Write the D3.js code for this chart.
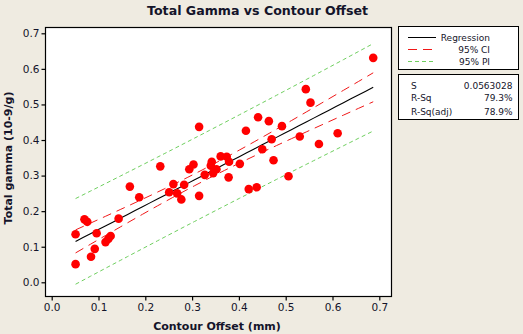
<!DOCTYPE html>
<html><head><meta charset="utf-8">
<script src="https://cdn.jsdelivr.net/npm/d3@7"></script>
<style>html,body{margin:0;padding:0;background:#EFEBE1;}svg{display:block;}</style>
</head><body>
<svg id="c" width="523" height="334"></svg>
<script>
const offsetMm = [0.051,0.051,0.070,0.076,0.084,0.092,0.096,0.115,0.121,0.126,0.143,0.167,0.187,0.232,0.251,0.260,0.268,0.277,0.283,0.294,0.303,0.315,0.315,0.327,0.340,0.342,0.345,0.352,0.361,0.374,0.379,0.378,0.402,0.415,0.421,0.438,0.441,0.450,0.464,0.470,0.474,0.492,0.506,0.530,0.543,0.553,0.571,0.611,0.687];
const totalGamma = [0.051,0.135,0.177,0.170,0.072,0.094,0.138,0.113,0.122,0.130,0.179,0.269,0.239,0.326,0.253,0.276,0.250,0.233,0.274,0.318,0.331,0.437,0.243,0.302,0.328,0.339,0.307,0.318,0.354,0.353,0.339,0.295,0.333,0.426,0.262,0.267,0.464,0.374,0.453,0.402,0.343,0.439,0.298,0.410,0.543,0.505,0.389,0.419,0.631];
const xTicks = [0,0.1,0.2,0.3,0.4,0.5,0.6,0.7];
const yTicks = [0,0.1,0.2,0.3,0.4,0.5,0.6,0.7];
const legendLabels = ["Regression","95% CI","95% PI"];
const statNames = ["S","R-Sq","R-Sq(adj)"];
const statValues = ["0.0563028","79.3%","78.9%"];
const tCrit = 2.012;

const svg = d3.select("#c");
const FONT = "DejaVu Sans, Verdana, sans-serif";
const txt = "#14142a";
const x = d3.scaleLinear().domain([0,0.7]).range([51.7,379.3]);
const y = d3.scaleLinear().domain([0,0.7]).range([282.3,33.3]);
const frame = {l:45.5,t:27.5,r:391.5,b:296.5};

svg.append("rect").attr("x",frame.l).attr("y",frame.t).attr("width",frame.r-frame.l).attr("height",frame.b-frame.t)
  .attr("fill","#fff").attr("stroke","#000").attr("stroke-width",1.2);

const n = offsetMm.length;
const mx = d3.mean(offsetMm), my = d3.mean(totalGamma);
let sxx=0, sxy=0;
for(let i=0;i<n;i++){sxx+=(offsetMm[i]-mx)**2; sxy+=(offsetMm[i]-mx)*(totalGamma[i]-my);}
const b1 = sxy/sxx, b0 = my - b1*mx;
let sse=0; for(let i=0;i<n;i++){sse+=(totalGamma[i]-b0-b1*offsetMm[i])**2;}
const s = Math.sqrt(sse/(n-2));
const xmin = d3.min(offsetMm), xmax = d3.max(offsetMm);
const grid = d3.range(0,41).map(k=>xmin+(xmax-xmin)*k/40);
const fit = v=>b0+b1*v;
const ci = v=>tCrit*s*Math.sqrt(1/n+(v-mx)**2/sxx);
const pi = v=>tCrit*s*Math.sqrt(1+1/n+(v-mx)**2/sxx);
const line = d3.line().x(d=>x(d[0])).y(d=>y(d[1]));
const g = svg.append("g");
g.append("path").datum(grid.map(v=>[v,fit(v)+pi(v)])).attr("d",line).attr("fill","none").attr("stroke","#6fcf5f").attr("stroke-width",1).attr("stroke-dasharray","4,3");
g.append("path").datum(grid.map(v=>[v,fit(v)-pi(v)])).attr("d",line).attr("fill","none").attr("stroke","#6fcf5f").attr("stroke-width",1).attr("stroke-dasharray","4,3");
g.append("path").datum(grid.map(v=>[v,fit(v)+ci(v)])).attr("d",line).attr("fill","none").attr("stroke","#f01818").attr("stroke-width",1).attr("stroke-dasharray","9,6");
g.append("path").datum(grid.map(v=>[v,fit(v)-ci(v)])).attr("d",line).attr("fill","none").attr("stroke","#f01818").attr("stroke-width",1).attr("stroke-dasharray","9,6");
g.append("path").datum(grid.map(v=>[v,fit(v)])).attr("d",line).attr("fill","none").attr("stroke","#000").attr("stroke-width",1.1);

svg.append("g").selectAll("circle").data(offsetMm.map((v,i)=>[v,totalGamma[i]])).join("circle")
  .attr("cx",d=>x(d[0])).attr("cy",d=>y(d[1])).attr("r",4.3).attr("fill","#ff0000");

const xa = svg.append("g").attr("transform",`translate(0,${frame.b})`)
  .call(d3.axisBottom(x).tickValues(xTicks).tickFormat(d3.format(".1f")).tickSize(4).tickSizeOuter(0));
const ya = svg.append("g").attr("transform",`translate(${frame.l},0)`)
  .call(d3.axisLeft(y).tickValues(yTicks).tickFormat(d3.format(".1f")).tickSize(4).tickSizeOuter(0));
[xa,ya].forEach(a=>{a.select(".domain").remove();a.selectAll("line").attr("stroke","#000").attr("stroke-width",1.2);
  a.selectAll("text").attr("font-family",FONT).attr("font-size","10.5px").attr("fill",txt);});
xa.selectAll("text").attr("dy","0.95em").attr("y",5);
ya.selectAll("text").attr("x",-6);

svg.append("text").attr("x",257.5).attr("y",15).attr("text-anchor","middle").attr("font-family",FONT)
  .attr("font-weight","bold").attr("font-size","12.6px").attr("fill",txt).text("Total Gamma vs Contour Offset");
svg.append("text").attr("x",217).attr("y",330).attr("text-anchor","middle").attr("font-family",FONT)
  .attr("font-weight","bold").attr("font-size","11px").attr("fill",txt).text("Contour Offset (mm)");
svg.append("text").attr("transform","translate(12,158) rotate(-90)").attr("text-anchor","middle").attr("font-family",FONT)
  .attr("font-weight","bold").attr("font-size","11px").attr("fill",txt).text("Total gamma (10-9/g)");

svg.append("rect").attr("x",398.5).attr("y",26.5).attr("width",120).attr("height",43).attr("fill","#fff").attr("stroke","#000").attr("stroke-width",1);
const styles=[{c:"#000",d:null},{c:"#f01818",d:"9,6"},{c:"#6fcf5f",d:"4,3"}];
legendLabels.forEach((t,i)=>{
  const yy = 37.5+i*12;
  svg.append("line").attr("x1",408).attr("x2",436).attr("y1",yy).attr("y2",yy).attr("stroke",styles[i].c).attr("stroke-width",1).attr("stroke-dasharray",styles[i].d);
  svg.append("text").attr("x",490).attr("y",yy+3.5).attr("text-anchor","end").attr("font-family",FONT).attr("font-size","9px").attr("fill",txt).text(t);
});
svg.append("rect").attr("x",398.5).attr("y",74.5).attr("width",120).attr("height",45).attr("fill","#fff").attr("stroke","#000").attr("stroke-width",1);
statNames.forEach((t,i)=>{
  const yy=[85,97,111][i];
  svg.append("text").attr("x",411).attr("y",yy+3.5).attr("font-family",FONT).attr("font-size","9px").attr("fill",txt).text(t);
  svg.append("text").attr("x",512.5).attr("y",yy+3.5).attr("text-anchor","end").attr("font-family",FONT).attr("font-size","9px").attr("fill",txt).text(statValues[i]);
});
</script>
</body></html>
